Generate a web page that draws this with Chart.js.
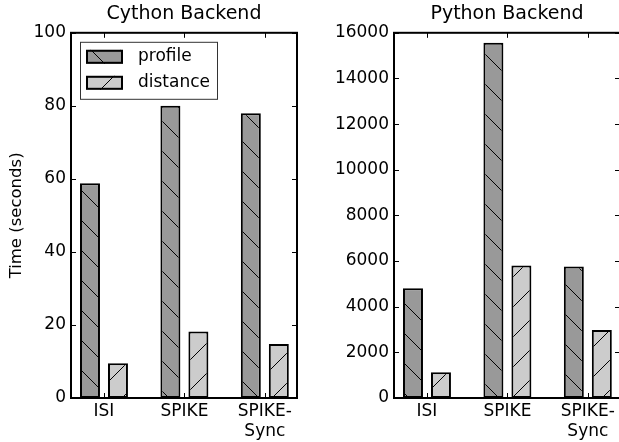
<!DOCTYPE html>
<html>
<head>
<meta charset="utf-8">
<script src="https://cdn.jsdelivr.net/npm/chart.js"></script>
<style>
    html, body { margin: 0; padding: 0; background: #fff; overflow: hidden; }
    .panel { position: absolute; top: 0; }
</style>
</head>
<body>
<div class="panel" style="left:0"><canvas id="chart-cython" width="310" height="442"></canvas></div>
<div class="panel" style="left:310px"><canvas id="chart-python" width="312" height="442"></canvas></div>
<script>
const tickLabels = [['ISI'], ['SPIKE'], ['SPIKE-', 'Sync']];
const seriesNames = ['profile', 'distance'];

const cythonProfile = [58.8, 80.0, 78.0];
const cythonDistance = [9.5, 18.2, 14.8];

const pythonProfile = [4810, 15560, 5760];
const pythonDistance = [1130, 5800, 2980];

Chart.defaults.font.family = "'DejaVu Sans', sans-serif";
Chart.defaults.font.size = 17;
Chart.defaults.color = '#000';

// 30px hatch tile; c is the line phase in canvas coordinates
function hatch(fill, dir, c) {
    let tile = document.createElement('canvas');
    tile.width = tile.height = 30;
    let g = tile.getContext('2d');
    g.fillStyle = fill;
    g.fillRect(0, 0, 30, 30);
    g.strokeStyle = '#000';
    g.lineWidth = 1;
    g.beginPath();
    if (dir === '\\') {
        g.moveTo(-5, c - 5); g.lineTo(35, c + 35);
        g.moveTo(-5, c - 35); g.lineTo(35, c + 5);
    } else {
        g.moveTo(-5, c + 5); g.lineTo(35, c - 35);
        g.moveTo(-5, c + 35); g.lineTo(35, c - 5);
    }
    g.stroke();
    return g.createPattern(tile, 'repeat');
}

// inward ticks on all four sides plus the box round the axes
const axesFrame = {
    id: 'axesFrame',
    afterDatasetsDraw(chart) {
        let {ctx, chartArea: a, scales: {x, y}} = chart;
        ctx.save();
        ctx.strokeStyle = '#000';
        ctx.lineWidth = 1;
        ctx.beginPath();
        y.ticks.forEach(t => {
            let py = Math.round(y.getPixelForValue(t.value)) + 0.5;
            ctx.moveTo(a.left, py); ctx.lineTo(a.left + 5, py);
            ctx.moveTo(a.right, py); ctx.lineTo(a.right - 5, py);
        });
        x.ticks.forEach(t => {
            let px = Math.round(x.getPixelForValue(t.value)) + 0.5;
            ctx.moveTo(px, a.bottom); ctx.lineTo(px, a.bottom - 5);
            ctx.moveTo(px, a.top); ctx.lineTo(px, a.top + 5);
        });
        ctx.stroke();
        ctx.lineWidth = 2;
        ctx.strokeRect(a.left, a.top, a.right - a.left, a.bottom - a.top);
        ctx.restore();
    }
};

// boxed legend in the upper left corner of the axes
const boxedLegend = {
    id: 'boxedLegend',
    afterDraw(chart) {
        let {ctx, chartArea: a} = chart;
        let x0 = a.left + 9.5;
        let y0 = a.top + 9.5;
        ctx.save();
        ctx.fillStyle = '#fff';
        ctx.fillRect(x0, y0, 137, 57);
        ctx.strokeStyle = '#333';
        ctx.lineWidth = 1;
        ctx.strokeRect(x0, y0, 137, 57);
        chart.data.datasets.forEach((ds, i) => {
            let sy = a.top + 17 + i * 26;
            ctx.fillStyle = ds.backgroundColor;
            ctx.fillRect(a.left + 15, sy, 37, 14);
            ctx.strokeStyle = '#000';
            ctx.lineWidth = 2;
            ctx.strokeRect(a.left + 16, sy + 1, 35, 12);
            ctx.fillStyle = '#000';
            ctx.font = "17px 'DejaVu Sans', sans-serif";
            ctx.textBaseline = 'middle';
            ctx.fillText(ds.label, a.left + 67, sy + 7);
        });
        ctx.restore();
    }
};

function makeChart(canvasId, title, profile, distance, yMax, yStep, yWidth, yTitle, padRight, pageX, extraPlugins) {
    let toPoints = values => values.map((v, i) => ({x: i, y: v}));
    let barStyle = {
        borderColor: '#000',
        borderWidth: 2,
        borderSkipped: false,
        categoryPercentage: 0.696,
        barPercentage: 0.714,
    };
    // keep the hatch phase continuous across both canvases
    let profileFill = hatch('#999999', '\\', (19 + pageX) % 30);
    let distanceFill = hatch('#cccccc', '/', ((10 - pageX) % 30 + 30) % 30);

    return new Chart(document.getElementById(canvasId), {
        type: 'bar',
        data: {
            datasets: [
                Object.assign({label: seriesNames[0], data: toPoints(profile), backgroundColor: profileFill}, barStyle),
                Object.assign({label: seriesNames[1], data: toPoints(distance), backgroundColor: distanceFill}, barStyle),
            ]
        },
        options: {
            responsive: false,
            animation: false,
            layout: {padding: {left: 0, right: padRight, top: 0, bottom: 0}},
            plugins: {
                legend: {display: false},
                tooltip: {enabled: false},
                title: {
                    display: true,
                    text: title,
                    fullSize: false,
                    font: {size: 19, weight: 'normal'},
                    padding: {top: 3, bottom: 7},
                },
            },
            scales: {
                x: {
                    type: 'linear',
                    offset: false,
                    min: -0.41,
                    max: 2.4,
                    grid: {display: false, drawTicks: false},
                    border: {display: false},
                    afterBuildTicks: scale => {
                        scale.ticks = tickLabels.map((_, i) => ({value: i}));
                    },
                    afterFit: scale => { scale.height = 44; },
                    ticks: {
                        autoSkip: false,
                        maxRotation: 0,
                        padding: 3,
                        callback: value => tickLabels[value],
                    },
                },
                y: {
                    min: 0,
                    max: yMax,
                    grid: {display: false, drawTicks: false},
                    border: {display: false},
                    afterFit: scale => { scale.width = yWidth; },
                    ticks: {stepSize: yStep, padding: 5, callback: value => `${value}`},
                    title: {
                        display: !!yTitle,
                        text: yTitle,
                        font: {size: 16.5},
                        padding: {top: 7, bottom: 0},
                    },
                },
            },
        },
        plugins: [axesFrame].concat(extraPlugins),
    });
}

makeChart('chart-cython', 'Cython Backend', cythonProfile, cythonDistance, 100, 20, 71, 'Time (seconds)', 13, 0, [boxedLegend]);
makeChart('chart-python', 'Python Backend', pythonProfile, pythonDistance, 16000, 2000, 84, '', 2, 310, []);
</script>
</body>
</html>
